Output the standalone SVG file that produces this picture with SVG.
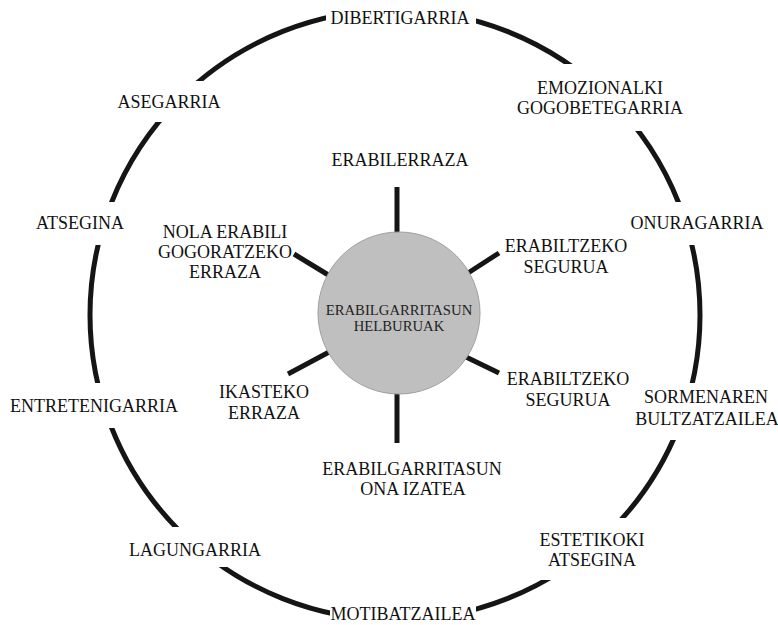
<svg xmlns="http://www.w3.org/2000/svg" width="778" height="625" viewBox="0 0 778 625">
<style>
text{font-family:"Liberation Serif","Times New Roman",serif;font-size:18px;fill:#111;text-anchor:middle}
.bg{fill:#fff}
.spoke{stroke:#151515;stroke-width:5;fill:none}
.center{font-size:14.7px;fill:#222}
</style>
<rect width="778" height="625" fill="#fff"/>
<g id="connectors">
<circle cx="395" cy="315" r="305" fill="none" stroke="#151515" stroke-width="5"/>
<line class="spoke" x1="397" y1="187" x2="397" y2="235"/>
<line class="spoke" x1="397" y1="390" x2="397" y2="443"/>
<line class="spoke" x1="294" y1="254" x2="330" y2="276"/>
<line class="spoke" x1="499" y1="253" x2="468" y2="273"/>
<line class="spoke" x1="288" y1="374" x2="331" y2="351"/>
<line class="spoke" x1="466" y1="357" x2="499" y2="373"/>
</g>
<g id="center-node">
<circle cx="399" cy="313" r="81" fill="#bfbfbf" stroke="#a0a0a0" stroke-width="1"/>
<text class="center" x="399" y="315">ERABILGARRITASUN</text>
<text class="center" x="399" y="331">HELBURUAK</text>
</g>
<g id="n-dibertigarria"><rect class="bg" x="326" y="0" width="150" height="36"/><text x="400" y="24">DIBERTIGARRIA</text></g>
<g id="n-emozionalki"><rect class="bg" x="515" y="64" width="170" height="67"/><text x="600" y="94">EMOZIONALKI</text><text x="600" y="114">GOGOBETEGARRIA</text></g>
<g id="n-asegarria"><rect class="bg" x="110" y="81" width="118" height="41"/><text x="169" y="108">ASEGARRIA</text></g>
<g id="n-atsegina"><rect class="bg" x="30" y="202" width="100" height="43"/><text x="80" y="229">ATSEGINA</text></g>
<g id="n-onuragarria"><rect class="bg" x="625" y="202" width="150" height="43"/><text x="697" y="229">ONURAGARRIA</text></g>
<g id="n-entretenigarria"><rect class="bg" x="5" y="383" width="180" height="45"/><text x="94" y="412">ENTRETENIGARRIA</text></g>
<g id="n-sormenaren"><rect class="bg" x="635" y="383" width="143" height="57"/><text x="706" y="403">SORMENAREN</text><text x="707" y="425">BULTZATZAILEA</text></g>
<g id="n-lagungarria"><rect class="bg" x="120" y="527" width="150" height="40"/><text x="195" y="556">LAGUNGARRIA</text></g>
<g id="n-estetikoki"><rect class="bg" x="530" y="518" width="125" height="62"/><text x="592" y="546">ESTETIKOKI</text><text x="592" y="566">ATSEGINA</text></g>
<g id="n-motibatzailea"><rect class="bg" x="330" y="598" width="146" height="27"/><text x="403" y="620">MOTIBATZAILEA</text></g>
<g id="n-erabilerraza"><text x="400" y="166">ERABILERRAZA</text></g>
<g id="n-nola"><text x="225" y="238">NOLA ERABILI</text><text x="225" y="258">GOGORATZEKO</text><text x="225" y="278">ERRAZA</text></g>
<g id="n-seguru1"><text x="566" y="252">ERABILTZEKO</text><text x="566" y="273">SEGURUA</text></g>
<g id="n-ikasteko"><text x="264" y="398">IKASTEKO</text><text x="264" y="419">ERRAZA</text></g>
<g id="n-seguru2"><text x="568" y="385">ERABILTZEKO</text><text x="568" y="406">SEGURUA</text></g>
<g id="n-ona"><text x="412" y="475">ERABILGARRITASUN</text><text x="413" y="495">ONA IZATEA</text></g>
</svg>
